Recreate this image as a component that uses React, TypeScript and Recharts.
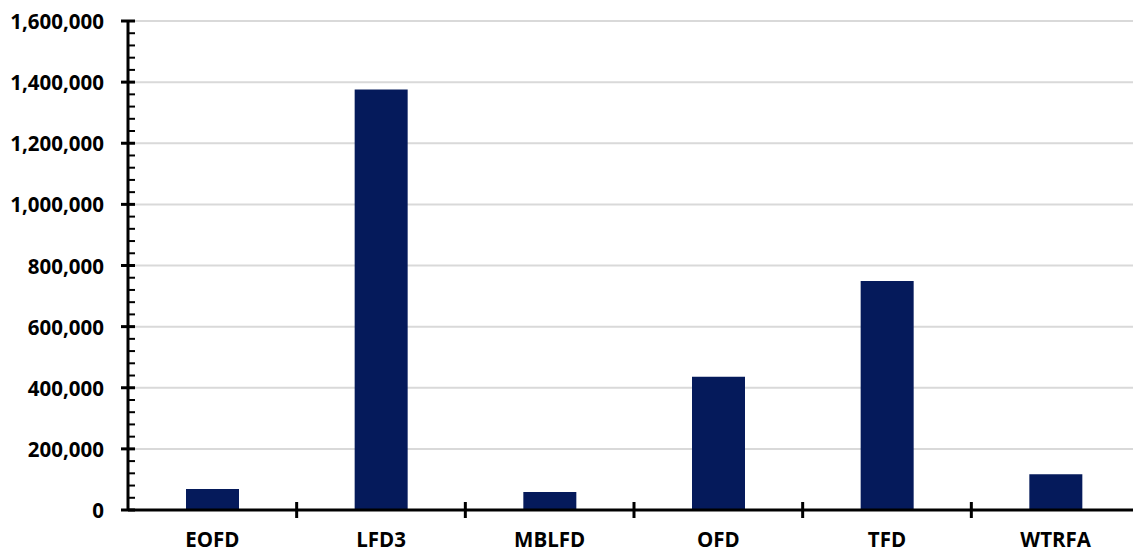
import { BarChart, Bar, XAxis, YAxis, CartesianGrid } from "recharts";

const departments = ["EOFD", "LFD3", "MBLFD", "OFD", "TFD", "WTRFA"];
const totals = [68500, 1376000, 59000, 436000, 749000, 117000];

const majorTicks = [0, 200000, 400000, 600000, 800000, 1000000, 1200000, 1400000, 1600000];
// every 40,000 — majors plus the four minor marks in between
const allTicks = [
  0, 40000, 80000, 120000, 160000, 200000, 240000, 280000, 320000, 360000,
  400000, 440000, 480000, 520000, 560000, 600000, 640000, 680000, 720000, 760000,
  800000, 840000, 880000, 920000, 960000, 1000000, 1040000, 1080000, 1120000, 1160000,
  1200000, 1240000, 1280000, 1320000, 1360000, 1400000, 1440000, 1480000, 1520000, 1560000,
  1600000,
];

const data = departments.map((name, i) => ({ name, value: totals[i] }));

const FONT = "'Open Sans', Lato, sans-serif";
const NAVY = "#051a5b";

function YTick(props: any) {
  const { y, payload } = props;
  const major = majorTicks.includes(payload.value);
  if (!major) {
    return <line x1={128} x2={135} y1={y} y2={y} stroke="#000" strokeWidth={2} />;
  }
  return (
    <g>
      <line x1={121} x2={135} y1={y} y2={y} stroke="#000" strokeWidth={3} />
      <text
        x={104}
        y={y}
        textAnchor="end"
        dominantBaseline="central"
        fontFamily={FONT}
        fontWeight={700}
        fontSize={20.5}
        fill="#000"
      >
        {payload.value.toLocaleString("en-US")}
      </text>
    </g>
  );
}

function XTick(props: any) {
  const { x, payload, index, visibleTicksCount } = props;
  const half = payload.offset ?? 84;
  const last = index === visibleTicksCount - 1;
  return (
    <g>
      {!last && (
        <line x1={x + half} x2={x + half} y1={502} y2={518} stroke="#000" strokeWidth={3} />
      )}
      <text
        x={x}
        y={539}
        textAnchor="middle"
        dominantBaseline="central"
        fontFamily={FONT}
        fontWeight={700}
        fontSize={20.5}
        fill="#000"
      >
        {payload.value}
      </text>
    </g>
  );
}

export default function App() {
  return (
    <div
      style={{
        position: "fixed",
        left: 0,
        top: 0,
        width: 1133,
        height: 553,
        overflow: "hidden",
        background: "#fff",
      }}
    >
      <BarChart
        width={1160}
        height={553}
        data={data}
        margin={{ top: 21, right: 20, left: 0, bottom: 0 }}
      >
        <CartesianGrid
          vertical={false}
          horizontalValues={majorTicks}
          stroke="#d9d9d9"
          strokeWidth={2}
        />
        <XAxis
          dataKey="name"
          height={43}
          axisLine={{ stroke: "#000", strokeWidth: 3 }}
          tickLine={false}
          tick={<XTick />}
          interval={0}
        />
        <YAxis
          width={128}
          domain={[0, 1600000]}
          ticks={allTicks}
          axisLine={{ stroke: "#000", strokeWidth: 3 }}
          tickLine={false}
          tick={<YTick />}
          interval={0}
        />
        <Bar dataKey="value" fill={NAVY} barSize={53} isAnimationActive={false} />
      </BarChart>
    </div>
  );
}
